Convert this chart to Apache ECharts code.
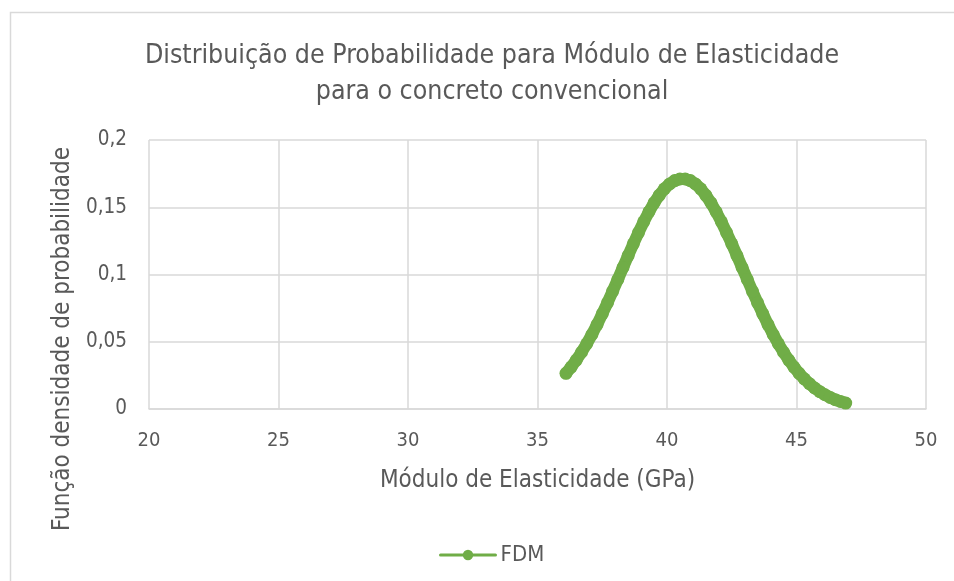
<!DOCTYPE html>
<html>
<head>
<meta charset="utf-8">
<script src="https://cdn.jsdelivr.net/npm/echarts@6/dist/echarts.min.js"></script>
<style>
html,body{margin:0;padding:0;background:#fff;}
#chart{width:954px;height:581px;}
</style>
</head>
<body>
<div id="chart"></div>
<script>
const titleText = 'Distribuição de Probabilidade para Módulo de Elasticidade\npara o concreto convencional';
const xAxisTitle = 'Módulo de Elasticidade (GPa)';
const yAxisTitle = 'Função densidade de probabilidade';
const seriesName = 'FDM';
const xTicks = [20, 25, 30, 35, 40, 45, 50];
const yTicks = [0, 0.05, 0.1, 0.15, 0.2];

const modulus = [
  36.1, 36.3, 36.5, 36.7, 36.9, 37.1, 37.3, 37.5, 37.7, 37.9,
  38.1, 38.3, 38.5, 38.7, 38.9, 39.1, 39.3, 39.5, 39.7, 39.9,
  40.1, 40.3, 40.5, 40.7, 40.9, 41.1, 41.3, 41.5, 41.7, 41.9,
  42.1, 42.3, 42.5, 42.7, 42.9, 43.1, 43.3, 43.5, 43.7, 43.9,
  44.1, 44.3, 44.5, 44.7, 44.9, 45.1, 45.3, 45.5, 45.7, 45.9,
  46.1, 46.3, 46.5, 46.7, 46.9
];
const fdm = [
  0.0265, 0.0312, 0.0364, 0.0422, 0.0485, 0.0554, 0.0628, 0.0707, 0.0789, 0.0875,
  0.0963, 0.1052, 0.1141, 0.1228, 0.1312, 0.1392, 0.1465, 0.1532, 0.1589, 0.1637,
  0.1673, 0.1698, 0.1710, 0.1710, 0.1698, 0.1673, 0.1637, 0.1589, 0.1532, 0.1465,
  0.1392, 0.1312, 0.1228, 0.1141, 0.1052, 0.0963, 0.0875, 0.0789, 0.0707, 0.0628,
  0.0554, 0.0485, 0.0422, 0.0364, 0.0312, 0.0265, 0.0224, 0.0188, 0.0156, 0.0129,
  0.0106, 0.0086, 0.0069, 0.0056, 0.0044
];

const FONT = '"Liberation Sans Narrow", "DejaVu Sans Condensed", "Open Sans", sans-serif';
const TXT = '#595959';
const GREEN = '#70AD47';

const chart = echarts.init(document.getElementById('chart'), null, {renderer: 'canvas'});
const data = modulus.map((x, i) => [x, fdm[i]]);

chart.setOption({
  backgroundColor: '#fff',
  animation: false,
  title: {
    text: titleText,
    left: 487,
    textAlign: 'center',
    top: 33,
    textStyle: {fontFamily: FONT, fontSize: 26.5, fontWeight: 'normal', color: TXT, lineHeight: 36}
  },
  graphic: [
    {type: 'rect', silent: true, z: -1,
     shape: {x: 10.5, y: 12.5, width: 1000, height: 1000},
     style: {fill: 'none', stroke: '#d9d9d9', lineWidth: 1.5}},
    {type: 'text', x: 63, y: 339, rotation: Math.PI / 2,
     style: {text: yAxisTitle, fontFamily: FONT, fontSize: 24, fill: TXT, align: 'center', verticalAlign: 'middle'}}
  ],
  legend: {
    data: [seriesName],
    left: 434,
    top: 539,
    itemWidth: 55,
    itemHeight: 13,
    itemGap: 10,
    lineStyle: {width: 3},
    textStyle: {fontFamily: FONT, fontSize: 22, color: TXT}
  },
  grid: {left: 149, right: 28, top: 140, bottom: 172, containLabel: false},
  xAxis: {
    type: 'value', min: xTicks[0], max: xTicks[xTicks.length - 1], interval: 5,
    name: xAxisTitle, nameLocation: 'middle', nameGap: 60,
    nameTextStyle: {fontFamily: FONT, fontSize: 24, color: TXT},
    axisLine: {show: true, lineStyle: {color: '#d9d9d9', width: 1.5}},
    axisTick: {show: false},
    axisLabel: {fontFamily: FONT, fontSize: 20, color: TXT, margin: 22},
    splitLine: {show: true, lineStyle: {color: '#d9d9d9', width: 1.5}}
  },
  yAxis: {
    type: 'value', min: yTicks[0], max: yTicks[yTicks.length - 1], interval: 0.05,
    axisLine: {show: false},
    axisTick: {show: false},
    axisLabel: {fontFamily: FONT, fontSize: 20.5, color: TXT, margin: 22,
      formatter: v => String(+v.toFixed(2)).replace('.', ',')},
    splitLine: {show: true, lineStyle: {color: '#d9d9d9', width: 1.5}}
  },
  series: [{
    name: seriesName,
    type: 'line',
    data: data,
    symbol: 'circle',
    symbolSize: 13,
    itemStyle: {color: GREEN},
    lineStyle: {color: GREEN, width: 12, cap: 'round', join: 'round'},
    smooth: false
  }]
});
</script>
</body>
</html>
